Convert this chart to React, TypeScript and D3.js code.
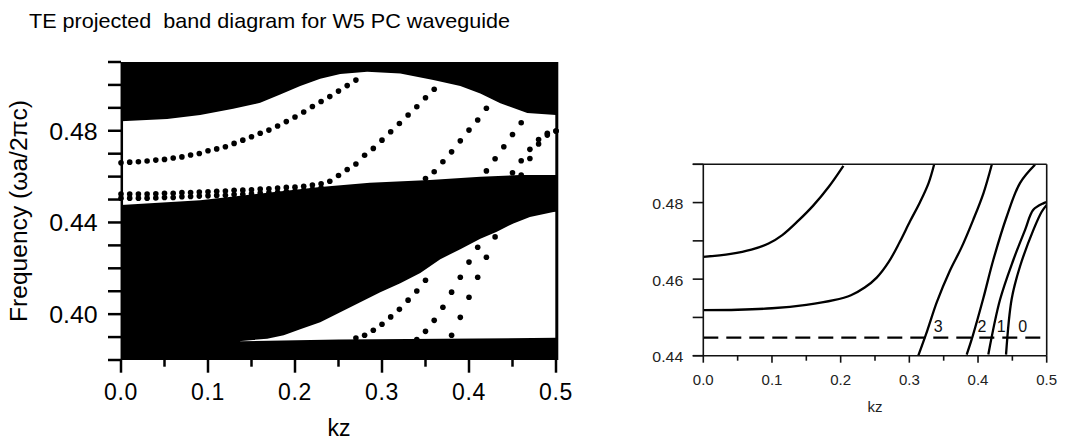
import React from "react";
import * as d3 from "d3";

const FONT = "'Liberation Sans', Arial, Helvetica, sans-serif";

type Pt = [number, number];

// ---- left panel: projected band edges, [kz, frequency]
const upperGapTop: Pt[] = [
  [0, 0.4842], [0.053, 0.4851], [0.091, 0.4869], [0.129, 0.4896], [0.16, 0.4922],
  [0.183, 0.4958], [0.206, 0.4995], [0.229, 0.5027], [0.252, 0.5048], [0.283, 0.5058],
  [0.321, 0.505], [0.359, 0.5021], [0.39, 0.4995], [0.413, 0.4963], [0.436, 0.492],
  [0.467, 0.4877], [0.5, 0.4869],
];
const upperGapBottom: Pt[] = [
  [0, 0.4476], [0.091, 0.4497], [0.179, 0.4534], [0.229, 0.4555], [0.286, 0.4573],
  [0.355, 0.4585], [0.413, 0.4599], [0.459, 0.4607], [0.5, 0.4607],
];
const lowerGapTop: Pt[] = [
  [0.135, 0.3882], [0.168, 0.3893], [0.187, 0.3908], [0.206, 0.3934], [0.229, 0.3965],
  [0.252, 0.4008], [0.275, 0.4052], [0.298, 0.4096], [0.321, 0.4135], [0.344, 0.4179],
  [0.367, 0.424], [0.39, 0.4283], [0.413, 0.4329], [0.432, 0.436], [0.451, 0.4396],
  [0.47, 0.4424], [0.497, 0.4446], [0.5, 0.4447],
];
const lowerGapBottom: Pt[] = [[0.135, 0.3882], [0.25, 0.3889], [0.5, 0.3897]];

// ---- left panel: guided modes (dots), [kz, frequency]
const bandA: Pt[] = [
  [0, 0.466], [0.01, 0.4663], [0.02, 0.4665], [0.03, 0.4668], [0.04, 0.4672], [0.05, 0.4675],
  [0.06, 0.4681], [0.07, 0.4686], [0.08, 0.4694], [0.09, 0.4701], [0.1, 0.4713], [0.11, 0.4721],
  [0.12, 0.473], [0.13, 0.4745], [0.14, 0.4759], [0.15, 0.4774], [0.16, 0.4789], [0.17, 0.4803],
  [0.18, 0.4821], [0.19, 0.484], [0.2, 0.486], [0.21, 0.4882], [0.22, 0.4906], [0.23, 0.4928],
  [0.24, 0.4949], [0.25, 0.4973], [0.26, 0.4997], [0.27, 0.5021],
];
const bandB1: Pt[] = [
  [0, 0.4524], [0.01, 0.4524], [0.02, 0.4524], [0.03, 0.4524], [0.04, 0.4525], [0.05, 0.4527],
  [0.06, 0.4527], [0.07, 0.453], [0.08, 0.4531], [0.09, 0.4533], [0.1, 0.4534], [0.11, 0.4536],
  [0.12, 0.4537], [0.13, 0.454], [0.14, 0.4541], [0.15, 0.4543], [0.16, 0.4546], [0.17, 0.4547],
  [0.18, 0.455], [0.19, 0.4553], [0.2, 0.4554], [0.21, 0.4558], [0.22, 0.4563], [0.23, 0.4569],
  [0.24, 0.458], [0.25, 0.4605], [0.26, 0.4631], [0.27, 0.4655], [0.28, 0.4693], [0.29, 0.4723],
  [0.3, 0.4759], [0.31, 0.4796], [0.32, 0.4832], [0.33, 0.4869], [0.34, 0.4905], [0.35, 0.4944],
  [0.36, 0.4981],
];
const bandB2: Pt[] = [
  [0, 0.4506], [0.01, 0.4506], [0.02, 0.4506], [0.03, 0.4506], [0.04, 0.4507], [0.05, 0.4509],
  [0.06, 0.4509], [0.07, 0.4512], [0.08, 0.4513], [0.09, 0.4515], [0.1, 0.4516], [0.11, 0.4518],
  [0.12, 0.4519], [0.13, 0.4522], [0.14, 0.4523], [0.15, 0.4525], [0.16, 0.4528], [0.17, 0.4529],
  [0.18, 0.4532], [0.19, 0.4535], [0.2, 0.4536], [0.21, 0.454], [0.22, 0.4545], [0.23, 0.455],
];
const bandC: Pt[] = [
  [0.35, 0.4592], [0.36, 0.4621], [0.37, 0.4665], [0.38, 0.4708], [0.39, 0.4756],
  [0.4, 0.4803], [0.41, 0.4847], [0.42, 0.4898],
];
const bandD: Pt[] = [[0.42, 0.4625], [0.43, 0.4678], [0.44, 0.473], [0.45, 0.4784], [0.46, 0.4835]];
const bandE: Pt[] = [[0.45, 0.4617], [0.46, 0.4669], [0.47, 0.4719], [0.48, 0.4762], [0.49, 0.4789], [0.5, 0.4799]];
const bandF: Pt[] = [[0.46, 0.4607], [0.47, 0.4679], [0.48, 0.4742], [0.49, 0.4781], [0.5, 0.4799]];
const bandG: Pt[] = [
  [0.27, 0.3896], [0.28, 0.3908], [0.29, 0.393], [0.3, 0.3956], [0.31, 0.3988],
  [0.32, 0.4021], [0.33, 0.4061], [0.34, 0.4101], [0.35, 0.4148],
];
const bandH: Pt[] = [
  [0.34, 0.3889], [0.35, 0.3925], [0.36, 0.3973], [0.37, 0.403], [0.38, 0.4096],
  [0.39, 0.4161], [0.4, 0.4227], [0.41, 0.4292],
];
const bandI: Pt[] = [[0.38, 0.3908], [0.39, 0.3986], [0.4, 0.4074], [0.41, 0.4161], [0.42, 0.4248], [0.43, 0.4337]];

const leftBands = [bandA, bandB1, bandB2, bandC, bandD, bandE, bandF, bandG, bandH, bandI];
const leftXTicks = [0, 0.1, 0.2, 0.3, 0.4, 0.5];
const leftXLabels = ["0.0", "0.1", "0.2", "0.3", "0.4", "0.5"];
const leftYTicks = [0.4, 0.44, 0.48];
const leftYLabels = ["0.40", "0.44", "0.48"];

// ---- right panel: calculated mode curves, [kz, frequency]
const curveTop: Pt[] = [
  [0, 0.4658], [0.04, 0.4666], [0.07, 0.4677], [0.095, 0.4693], [0.115, 0.4715],
  [0.138, 0.4752], [0.16, 0.4792], [0.183, 0.4842], [0.204, 0.4896],
];
const curveLow: Pt[] = [
  [0, 0.4519], [0.05, 0.452], [0.1, 0.4524], [0.15, 0.4533], [0.19, 0.4545], [0.215, 0.4558],
  [0.235, 0.4578], [0.2525, 0.4604], [0.27, 0.4645], [0.286, 0.4697], [0.301, 0.4751],
  [0.3155, 0.4801], [0.328, 0.4851], [0.336, 0.4899],
];
const curve3: Pt[] = [
  [0.313, 0.44], [0.326, 0.4465], [0.34, 0.454], [0.359, 0.4622], [0.376, 0.4683],
  [0.393, 0.4755], [0.408, 0.4825], [0.42, 0.4899],
];
const curve2: Pt[] = [
  [0.3835, 0.4403], [0.392, 0.445], [0.4077, 0.455], [0.4222, 0.465], [0.4417, 0.4763],
  [0.4611, 0.4851], [0.483, 0.4899],
];
const curve1: Pt[] = [
  [0.415, 0.4403], [0.432, 0.4546], [0.4514, 0.465], [0.4684, 0.4728], [0.4805, 0.4781],
  [0.495, 0.4798], [0.5, 0.4801],
];
const curve0: Pt[] = [
  [0.4408, 0.4403], [0.449, 0.4548], [0.4611, 0.4633], [0.4805, 0.4728], [0.4927, 0.4776],
  [0.5, 0.4794],
];
const rightCurves = [curveTop, curveLow, curve3, curve2, curve1, curve0];
const lightLine = 0.4447;
const modeLabels = ["3", "2", "1", "0"];
const modeLabelPos: Pt[] = [[0.342, 0.4463], [0.4057, 0.4463], [0.4336, 0.4463], [0.4652, 0.4463]];
const rightXTicks = [0, 0.1, 0.2, 0.3, 0.4, 0.5];
const rightXLabels = ["0.0", "0.1", "0.2", "0.3", "0.4", "0.5"];
const rightYTicks = [0.44, 0.46, 0.48];
const rightYLabels = ["0.44", "0.46", "0.48"];

export default function App() {
  const xL = d3.scaleLinear().domain([0, 0.5]).range([121, 556]);
  const yL = d3.scaleLinear().domain([0.38, 0.51]).range([360, 62]);
  const lineL = d3.line<Pt>().x((d) => xL(d[0])).y((d) => yL(d[1]));
  const gap = (top: Pt[], bottom: Pt[]) => lineL([...top, ...bottom.slice().reverse()]) + "Z";

  const xR = d3.scaleLinear().domain([0, 0.5]).range([703.3, 1046.7]);
  const yR = d3.scaleLinear().domain([0.44, 0.49]).range([355.7, 164.3]);
  const lineR = d3
    .line<Pt>()
    .x((d) => xR(d[0]))
    .y((d) => yR(d[1]))
    .curve(d3.curveCatmullRom.alpha(0.5));

  const leftMinor = d3.range(0.38, 0.5101, 0.01);
  const leftXMinor = d3.range(0.05, 0.5, 0.1);
  const rightYMinor = d3.range(0.44, 0.4901, 0.01);
  const rightXMinor = d3.range(0.05, 0.5, 0.1);

  return (
    <svg
      width={1066}
      height={441}
      style={{ position: "absolute", left: 0, top: 0, background: "#fff" }}
      fontFamily={FONT}
    >
      <defs>
        <clipPath id="rclip">
          <rect x={xR(0)} y={yR(0.49)} width={xR(0.5) - xR(0)} height={yR(0.44) - yR(0.49)} />
        </clipPath>
      </defs>

      <text x={29} y={28.3} fontSize={21} textLength={481} lengthAdjust="spacingAndGlyphs" style={{ whiteSpace: "pre" }}>
        {"TE projected  band diagram for W5 PC waveguide"}
      </text>

      {/* left panel */}
      <rect x={xL(0)} y={yL(0.51)} width={xL(0.5) - xL(0) + 2} height={yL(0.38) - yL(0.51)} fill="#000" />
      <path d={gap(upperGapTop, upperGapBottom)} fill="#fff" />
      <path d={gap(lowerGapTop, lowerGapBottom)} fill="#fff" />
      {leftBands.map((band, i) =>
        band.map((d, j) => <circle key={`${i}-${j}`} cx={xL(d[0])} cy={yL(d[1])} r={2.8} fill="#000" />)
      )}
      <line x1={xL(0) + 0.8} x2={xL(0) + 0.8} y1={yL(0.51)} y2={yL(0.38)} stroke="#000" strokeWidth={2.5} />
      <line x1={xL(0.5) + 0.8} x2={xL(0.5) + 0.8} y1={yL(0.51)} y2={yL(0.38)} stroke="#000" strokeWidth={3} />
      {leftMinor.map((v) => (
        <line key={`ly${v}`} x1={108} x2={xL(0)} y1={yL(v)} y2={yL(v)} stroke="#000" strokeWidth={2.5} />
      ))}
      {leftXTicks.map((v) => (
        <line key={`lx${v}`} x1={xL(v)} x2={xL(v)} y1={yL(0.38)} y2={yL(0.38) + 12.7} stroke="#000" strokeWidth={2.5} />
      ))}
      {leftXMinor.map((v) => (
        <line key={`lxm${v}`} x1={xL(v)} x2={xL(v)} y1={yL(0.38)} y2={yL(0.38) + 6.7} stroke="#000" strokeWidth={2.5} />
      ))}
      {leftXTicks.map((v, i) => (
        <text key={`lxl${v}`} x={xL(v)} y={400} fontSize={23} letterSpacing={0.7} textAnchor="middle">
          {leftXLabels[i]}
        </text>
      ))}
      {leftYTicks.map((v, i) => (
        <text key={`lyl${v}`} x={97.7} y={yL(v) + 9} fontSize={23} textAnchor="end" textLength={48.5} lengthAdjust="spacingAndGlyphs">
          {leftYLabels[i]}
        </text>
      ))}
      <text x={339} y={436} fontSize={23} textAnchor="middle">kz</text>
      <text
        transform={`translate(27,211) rotate(-90)`}
        fontSize={23}
        textAnchor="middle"
        textLength={222}
        lengthAdjust="spacingAndGlyphs"
      >
        Frequency (ωa/2πc)
      </text>

      {/* right panel */}
      <g clipPath="url(#rclip)">
        {rightCurves.map((c, i) => (
          <path key={`rc${i}`} d={lineR(c) || ""} fill="none" stroke="#000" strokeWidth={2.3} />
        ))}
      </g>
      <line
        x1={xR(0)}
        x2={xR(0.5) + 1}
        y1={yR(lightLine)}
        y2={yR(lightLine)}
        stroke="#000"
        strokeWidth={2.2}
        strokeDasharray="15,8"
      />
      {modeLabels.map((t, i) => (
        <text key={`ml${t}`} x={xR(modeLabelPos[i][0])} y={yR(modeLabelPos[i][1])} fontSize={16} textAnchor="middle" fill="#111">
          {t}
        </text>
      ))}
      <g stroke="#111" strokeWidth={1.6}>
        <line x1={692.7} x2={xR(0.5)} y1={yR(0.49)} y2={yR(0.49)} />
        <line x1={692.7} x2={xR(0.5)} y1={yR(0.44)} y2={yR(0.44)} />
        <line x1={xR(0)} x2={xR(0)} y1={yR(0.49)} y2={yR(0.44)} />
        <line x1={xR(0.5)} x2={xR(0.5)} y1={yR(0.49)} y2={yR(0.44)} />
        {rightYMinor.map((v) => (
          <line key={`ry${v}`} x1={692.7} x2={xR(0)} y1={yR(v)} y2={yR(v)} />
        ))}
        {rightXTicks.map((v) => (
          <line key={`rx${v}`} x1={xR(v)} x2={xR(v)} y1={yR(0.44)} y2={yR(0.44) + 7} />
        ))}
        {rightXMinor.map((v) => (
          <line key={`rxm${v}`} x1={xR(v)} x2={xR(v)} y1={yR(0.44)} y2={yR(0.44) + 5} />
        ))}
      </g>
      {rightXTicks.map((v, i) => (
        <text key={`rxl${v}`} x={xR(v)} y={385} fontSize={15} textAnchor="middle" fill="#222">
          {rightXLabels[i]}
        </text>
      ))}
      {rightYTicks.map((v, i) => (
        <text key={`ryl${v}`} x={683.3} y={yR(v) + 6.5} fontSize={15} textAnchor="end" fill="#222" textLength={31} lengthAdjust="spacingAndGlyphs">
          {rightYLabels[i]}
        </text>
      ))}
      <text x={875} y={411.7} fontSize={15} textAnchor="middle" fill="#222">kz</text>
    </svg>
  );
}
